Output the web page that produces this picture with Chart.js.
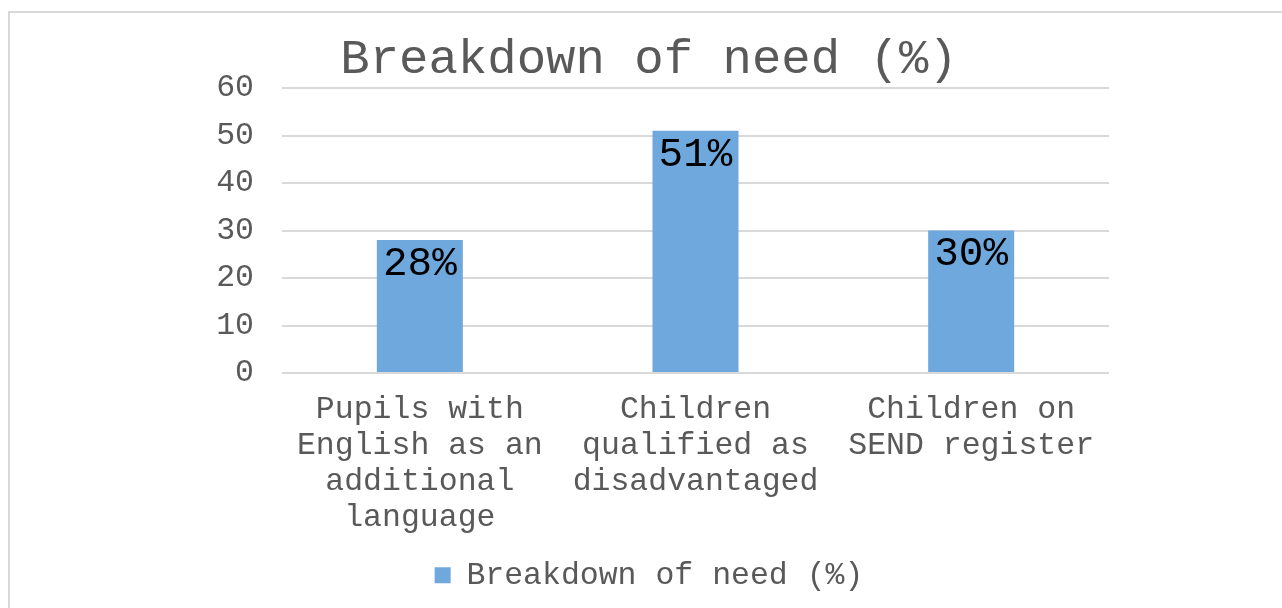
<!DOCTYPE html>
<html>
<head>
<meta charset="utf-8">
<script src="https://cdn.jsdelivr.net/npm/chart.js"></script>
<style>
  html, body { margin: 0; padding: 0; background: #fff; overflow: hidden; }
  #marco { position: absolute; left: 8px; top: 11px; width: 1400px; height: 800px; border: 2px solid #d9d9d9; }
  #caja { position: absolute; left: 0; top: 0; width: 1298px; height: 608px; }
</style>
</head>
<body>
<div id="marco"></div>
<div id="caja"><canvas id="myChart" width="1298" height="608"></canvas></div>
<script>
// datos del grafico
const categorias = [
  ['Pupils with', 'English as an', 'additional', 'language'],
  ['Children', 'qualified as', 'disadvantaged'],
  ['Children on', 'SEND register']
];
const valores = [28, 51, 30];
const nombreSerie = 'Breakdown of need (%)';
const titulo = 'Breakdown of need (%)';
const yMin = 0;
const yMax = 60;
const yPaso = 10;

const fuente = '"Courier New", "Liberation Mono", monospace';
const gris = '#595959';

const ctx = document.getElementById('myChart');

// etiquetas de datos dentro de las barras
const etiquetasBarras = {
  id: 'etiquetasBarras',
  afterDatasetsDraw(chart) {
    const c = chart.ctx;
    const meta = chart.getDatasetMeta(0);
    c.save();
    c.font = '41px ' + fuente;
    c.fillStyle = '#000';
    c.textAlign = 'center';
    c.textBaseline = 'middle';
    meta.data.forEach((barra, i) => {
      c.fillText(valores[i] + '%', barra.x, barra.y + 24);
    });
    c.restore();
  }
};

var grafico = new Chart(ctx, {
  type: 'bar',
  data: {
    labels: categorias,
    datasets: [
      {
        label: nombreSerie,
        data: valores,
        backgroundColor: '#6fa8dc',
        borderWidth: 0,
        categoryPercentage: 1,
        barPercentage: 0.312
      }
    ]
  },
  options: {
    responsive: false,
    animation: false,
    devicePixelRatio: 1,
    layout: { padding: { left: 0, right: 0, top: 0, bottom: 7 } },
    plugins: {
      title: {
        display: true,
        text: titulo,
        color: gris,
        font: { family: fuente, size: 49, weight: 'normal', lineHeight: 1 },
        padding: { top: 35.5, bottom: 3.5 }
      },
      legend: {
        position: 'bottom',
        labels: {
          color: gris,
          boxWidth: 16,
          boxHeight: 16,
          padding: 10,
          font: { family: fuente, size: 31.5 }
        }
      },
      tooltip: { enabled: false }
    },
    scales: {
      x: {
        grid: { display: false, drawTicks: false },
        border: { display: false },
        ticks: {
          color: gris,
          padding: 19,
          maxRotation: 0,
          autoSkip: false,
          font: { family: fuente, size: 31.5, lineHeight: '36px' }
        },
        afterFit(escala) { escala.height = 176.5; }
      },
      y: {
        min: yMin,
        max: yMax,
        grid: { color: '#d9d9d9', lineWidth: 2, drawTicks: false },
        border: { display: false },
        ticks: {
          stepSize: yPaso,
          color: gris,
          padding: 28,
          font: { family: fuente, size: 31.5 }
        },
        afterFit(escala) { escala.width = 282; }
      },
      derecha: {
        position: 'right',
        grid: { display: false, drawTicks: false },
        border: { display: false },
        ticks: { display: false },
        afterFit(escala) { escala.width = 189; }
      }
    }
  },
  plugins: [etiquetasBarras]
});
</script>
</body>
</html>
